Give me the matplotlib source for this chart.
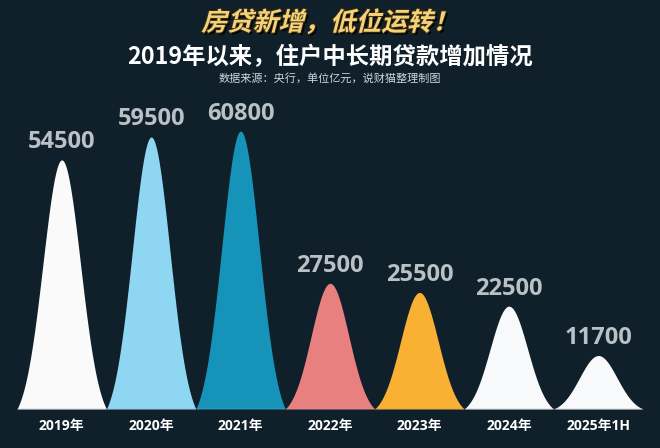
import numpy as np
import matplotlib
matplotlib.use("Agg")
import matplotlib.pyplot as plt
import matplotlib.patheffects as pe
from matplotlib.transforms import Affine2D

years = ["2019年", "2020年", "2021年", "2022年", "2023年", "2024年", "2025年1H"]
loans = [54500, 59500, 60800, 27500, 25500, 22500, 11700]
colors = ["#fafafa", "#8fd6f3", "#1593b9", "#e88080", "#f8b133", "#f7f9fa", "#f7f9fa"]

BG = "#0f202a"
CJK = ["Noto Sans CJK SC", "DejaVu Sans"]
NUM = ["Open Sans", "Noto Sans CJK SC", "DejaVu Sans"]


class Skewed(pe.AbstractPathEffect):
    """Slant a text path (fake italic) before handing it to other effects."""

    def __init__(self, deg, inner):
        super().__init__()
        self.deg = deg
        self.inner = inner

    def draw_path(self, renderer, gc, tpath, affine, rgbFace=None):
        sk = Affine2D().skew_deg(self.deg, 0) + affine
        for eff in self.inner:
            eff.draw_path(renderer, gc, tpath, sk, rgbFace)


def bell(u, s=0.21):
    c = np.exp(-0.125 / s ** 2)
    return np.clip((np.exp(-u ** 2 / (2 * s ** 2)) - c) / (1 - c), 0, None)


fig = plt.figure(figsize=(6.6, 4.48), dpi=100, facecolor=BG)
ax = fig.add_axes([17 / 660, 39 / 448, 626 / 660, 309 / 448])
ax.set_facecolor(BG)

u = np.linspace(-0.5, 0.5, 301)
for i, (v, col) in enumerate(zip(loans, colors)):
    ax.fill_between(i + u, 0, v * bell(u), color=col, lw=0, zorder=2)
    ax.annotate(f"{v}", (i, v), xytext=(0, 4), textcoords="offset points",
                ha="center", va="bottom", fontsize=17, fontweight="bold",
                color="#b9c0c6", family=NUM, zorder=3)

ax.axhline(0, color="#9aa8b0", lw=1, zorder=3)
ax.set_xlim(-0.5, len(loans) - 0.5)
ax.set_ylim(0, 67600)
ax.set_xticks(range(len(years)))
ax.set_xticklabels(years, fontsize=10, fontweight="bold", color="white",
                   family=NUM)
ax.tick_params(axis="x", length=0, pad=7)
ax.set_yticks([])
for sp in ax.spines.values():
    sp.set_visible(False)

fig.text(0.5, 1 - 23 / 448, "房贷新增，低位运转！", ha="center", va="center",
         fontsize=18.5, fontweight="bold", color="#f3d27a", family=CJK,
         path_effects=[Skewed(14, [pe.SimplePatchShadow(offset=(1.5, -1.5), shadow_rgbFace="#000000", alpha=0.9),
                                   pe.Stroke(linewidth=1.4, foreground="#3a2c10"),
                                   pe.Normal()])])
fig.text(0.5, 1 - 57 / 448, "2019年以来，住户中长期贷款增加情况", ha="center",
         va="center", fontsize=16.8, fontweight="bold", color="white", family=CJK)
fig.text(0.5, 1 - 78 / 448, "数据来源：央行，单位亿元，说财猫整理制图", ha="center",
         va="center", fontsize=8, color="#d0d6da", family=CJK)

fig.savefig("out.png", dpi=100, facecolor=BG)
